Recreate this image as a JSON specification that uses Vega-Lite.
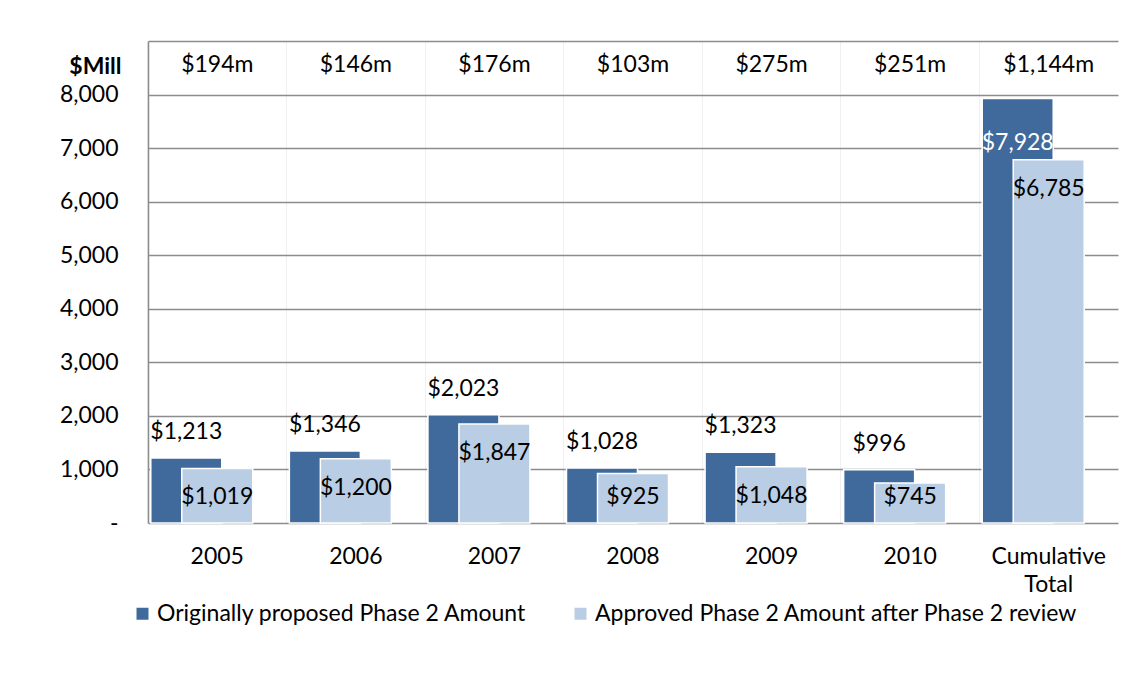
{
  "$schema": "https://vega.github.io/schema/vega-lite/v6.json",
  "width": 970,
  "height": 482,
  "autosize": "none",
  "padding": {"left": 148, "top": 41, "right": 13, "bottom": 154},
  "background": "white",
  "config": {"font": "Lato", "view": {"stroke": null}, "text": {"fontSize": 23, "color": "black"}},
  "data": {"values": [
    {"cat": "2005", "proposed": 1213, "approved": 1019, "diff": "$194m"},
    {"cat": "2006", "proposed": 1346, "approved": 1200, "diff": "$146m"},
    {"cat": "2007", "proposed": 2023, "approved": 1847, "diff": "$176m"},
    {"cat": "2008", "proposed": 1028, "approved": 925, "diff": "$103m"},
    {"cat": "2009", "proposed": 1323, "approved": 1048, "diff": "$275m"},
    {"cat": "2010", "proposed": 996, "approved": 745, "diff": "$251m"},
    {"cat": "Cumulative Total", "proposed": 7928, "approved": 6785, "diff": "$1,144m"}
  ]},
  "encoding": {
    "x": {
      "field": "cat", "type": "nominal", "sort": null,
      "scale": {"paddingInner": 0, "paddingOuter": 0},
      "axis": {
        "title": null, "labelAngle": 0, "ticks": false, "domain": false,
        "grid": true, "bandPosition": 0, "gridColor": "#f0f0f0", "gridWidth": 1,
        "labelFontSize": 23, "labelColor": "black", "labelPadding": 33,
        "labelExpr": "split(datum.label, ' ')", "labelLineHeight": 28, "labelBaseline": "middle"
      }
    }
  },
  "layer": [
    {
      "mark": {"type": "bar", "width": 71, "xOffset": -31, "stroke": "white", "strokeWidth": 1.5},
      "encoding": {
        "y": {
          "field": "proposed", "type": "quantitative",
          "scale": {"domain": [0, 9000], "nice": false},
          "axis": {
            "values": [0, 1000, 2000, 3000, 4000, 5000, 6000, 7000, 8000, 9000],
            "labelExpr": "datum.value == 0 ? '-' : (datum.value == 9000 ? '' : format(datum.value, ','))",
            "grid": true, "gridColor": "#8c8c8c", "gridWidth": 1.5,
            "domain": true, "domainColor": "#8c8c8c", "domainWidth": 1.5,
            "ticks": false, "labelPadding": 30, "labelFontSize": 23, "labelColor": "black",
            "title": "$Mill", "titleAngle": 0, "titleAlign": "right", "titleBaseline": "middle",
            "titleX": -27, "titleY": 25, "titleFontSize": 23, "titleFontWeight": "bold", "titleColor": "black"
          }
        },
        "color": {
          "datum": "Originally proposed Phase 2 Amount",
          "type": "nominal",
          "scale": {
            "domain": ["Originally proposed Phase 2 Amount", "Approved Phase 2 Amount after Phase 2 review"],
            "range": ["#416A9C", "#B9CDE5"]
          },
          "legend": {
            "title": null, "orient": "none", "legendX": -17, "legendY": 561,
            "direction": "horizontal", "symbolType": "square", "symbolSize": 144,
            "symbolStrokeWidth": 0, "labelFontSize": 23, "labelColor": "black", "labelLimit": 0,
            "columnPadding": 42, "labelOffset": 3, "padding": 0
          }
        }
      }
    },
    {
      "mark": {"type": "bar", "width": 71, "stroke": "white", "strokeWidth": 1.5},
      "encoding": {
        "y": {"field": "approved", "type": "quantitative"},
        "color": {"datum": "Approved Phase 2 Amount after Phase 2 review", "type": "nominal"}
      }
    },
    {
      "mark": {"type": "text", "baseline": "middle", "fontSize": 23},
      "encoding": {
        "y": {"datum": 8560, "type": "quantitative"},
        "text": {"field": "diff"}
      }
    },
    {
      "transform": [{"filter": "datum.cat != 'Cumulative Total'"}],
      "mark": {"type": "text", "baseline": "middle", "fontSize": 23, "xOffset": -31, "dy": -26},
      "encoding": {
        "y": {"field": "proposed", "type": "quantitative"},
        "text": {"field": "proposed", "format": "$,.0f"}
      }
    },
    {
      "transform": [{"filter": "datum.cat == 'Cumulative Total'"}],
      "mark": {"type": "text", "baseline": "middle", "fontSize": 23, "xOffset": -31, "dy": 45, "color": "white"},
      "encoding": {
        "y": {"field": "proposed", "type": "quantitative"},
        "text": {"field": "proposed", "format": "$,.0f"}
      }
    },
    {
      "transform": [{"filter": "datum.approved >= 1000"}],
      "mark": {"type": "text", "baseline": "middle", "fontSize": 23, "dy": 29},
      "encoding": {
        "y": {"field": "approved", "type": "quantitative"},
        "text": {"field": "approved", "format": "$,.0f"}
      }
    },
    {
      "transform": [{"filter": "datum.approved < 1000"}],
      "mark": {"type": "text", "baseline": "middle", "fontSize": 23},
      "encoding": {
        "y": {"datum": 486, "type": "quantitative"},
        "text": {"field": "approved", "format": "$,.0f"}
      }
    }
  ]
}
